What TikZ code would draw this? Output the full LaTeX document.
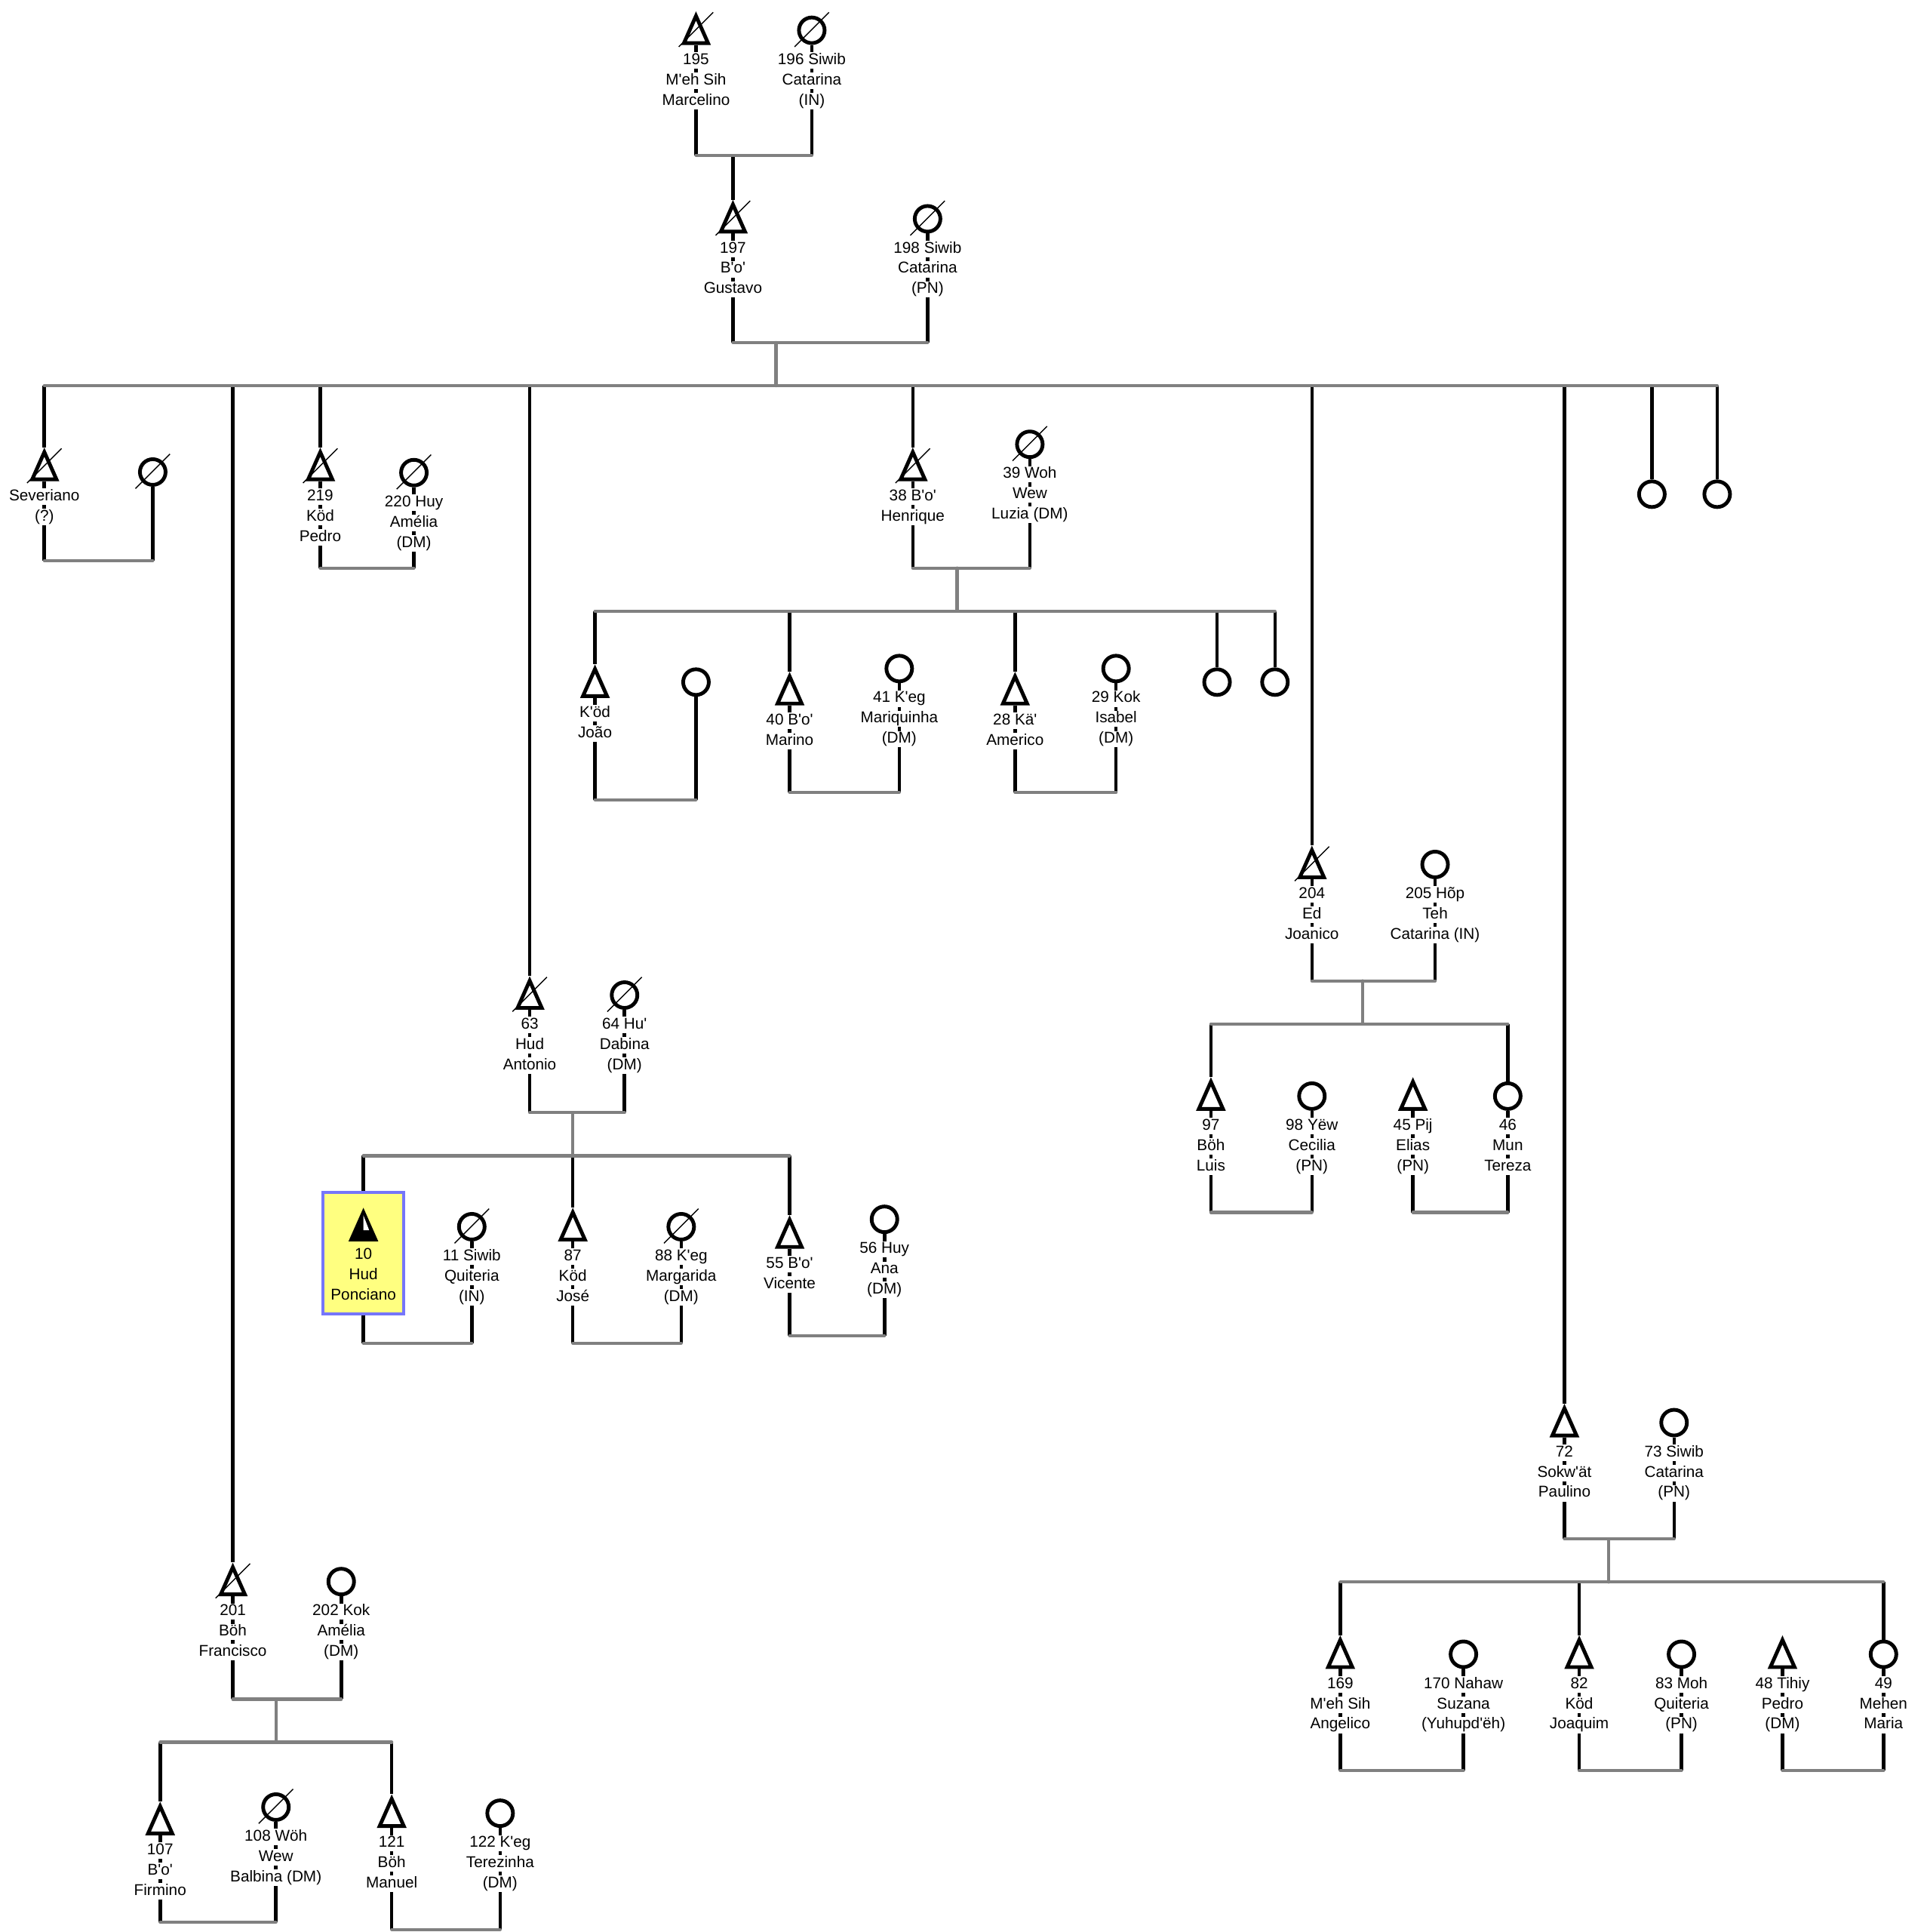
\documentclass[tikz,border=0pt]{standalone}
\usepackage{fontspec}
\newfontfamily\lblfont{Liberation Sans}
\usetikzlibrary{positioning,shapes.geometric}
\definecolor{kgray}{RGB}{128,128,128}
\definecolor{egofill}{RGB}{255,255,128}
\definecolor{egoblue}{RGB}{118,118,250}
\setlength{\fboxsep}{0.2pt}
\newcommand{\wb}[1]{\colorbox{white}{\rule[-1.4pt]{0pt}{5.8pt}#1}}
\tikzset{
  male/.style={isosceles triangle, isosceles triangle stretches, shape border rotate=90,
    minimum width=3.2mm, minimum height=3.6mm, inner sep=0pt, draw, line width=1.4pt, anchor=south},
  female/.style={circle, draw, line width=1.4pt, minimum size=3.4mm, inner sep=0pt, anchor=south},
  egobox/.style={draw=egoblue, fill=egofill, line width=1.15pt, minimum width=10.7mm, minimum height=16.05mm, inner sep=0pt},
  kin/.style={line width=1.3pt},
  bar/.style={kgray, line width=1.2pt, line cap=round},
  slash/.style={line width=0.4pt},
  lbl/.style={font=\lblfont\fontsize{5.9}{7.65}\selectfont, align=center, inner sep=0pt, below=2.5pt of #1},
}

\begin{document}
\begin{tikzpicture}[x=0.01633cm, y=-0.01633cm]
  \useasboundingbox (0,0) rectangle (1564,1568);

  % Generation 1 and 2
  \node[male] (p195) at (565,36.5) {};
  \node[female] (p196) at (659,36.5) {};
  \node[male] (p197) at (595,189.5) {};
  \node[female] (p198) at (753,189.5) {};

  % Generation 3
  \node[male] (psev) at (36,390.5) {};
  \node[female] (psevw) at (124,395) {};
  \node[male] (p201) at (189,1295.5) {};
  \node[female] (p202) at (277,1295.5) {};
  \node[male] (p219) at (260,390.5) {};
  \node[female] (p220) at (336,395.5) {};
  \node[male] (p63) at (430,819.5) {};
  \node[female] (p64) at (507,819.5) {};
  \node[male] (p38) at (741,390.5) {};
  \node[female] (p39) at (836,372.5) {};
  \node[male] (p204) at (1065,713.5) {};
  \node[female] (p205) at (1165,713.5) {};
  \node[male] (p72) at (1270,1166.5) {};
  \node[female] (p73) at (1359,1166.5) {};
  \node[female] (pd1) at (1341,413) {};
  \node[female] (pd2) at (1394,413) {};

  % Generation 4
  \node[male] (p107) at (130,1489.5) {};
  \node[female] (p108) at (224,1478.5) {};
  \node[male] (p121) at (318,1483.5) {};
  \node[female] (p122) at (406,1483.5) {};
  \node[egobox] (ego) at (295,1017) {};
  \node[male, fill=black] (p10) at (295,1007.5) {};
  \fill[white] ([shift={(0,-9)}]p10.south) -- ++(0,-12.2) -- ++(4.7,12.2) -- cycle;
  \node[female] (p11) at (383,1007.5) {};
  \node[male] (p87) at (465,1007.5) {};
  \node[female] (p88) at (553,1007.5) {};
  \node[male] (p55) at (641,1013.5) {};
  \node[female] (p56) at (718,1001.5) {};
  \node[male] (pjoao) at (483,566.5) {};
  \node[female] (pjoaow) at (565,565.5) {};
  \node[male] (p40) at (641,572.5) {};
  \node[female] (p41) at (730,554.5) {};
  \node[male] (p28) at (824,572.5) {};
  \node[female] (p29) at (906,554.5) {};
  \node[female] (pd3) at (988,565.5) {};
  \node[female] (pd4) at (1035,565.5) {};
  \node[male] (p97) at (983,901.5) {};
  \node[female] (p98) at (1065,901.5) {};
  \node[male] (p45) at (1147,901.5) {};
  \node[female] (p46) at (1224,901.5) {};
  \node[male] (p169) at (1088,1354.5) {};
  \node[female] (p170) at (1188,1354.5) {};
  \node[male] (p82) at (1282,1354.5) {};
  \node[female] (p83) at (1365,1354.5) {};
  \node[male] (p48) at (1447,1354.5) {};
  \node[female] (p49) at (1529,1354.5) {};

  % Deceased
  \foreach \p in {p195,p196,p197,p198,psev,psevw,p201,p219,p220,p63,p64,p38,p39,p204,p108,p11,p88}
    \draw[slash] ([shift={(-14,1.5)}]\p.south) -- ([shift={(14,-26.5)}]\p.south);

  % Marriage and sibling lines
  \coordinate (m1) at (595,126);
  \coordinate (m2) at (630,278);
  \coordinate (s2) at (630,313);
  \coordinate (bsev) at (80,455);
  \coordinate (m201) at (224,1379);
  \coordinate (s201) at (224,1414);
  \coordinate (b219) at (298,461);
  \coordinate (m63) at (465,903);
  \coordinate (s63) at (465,938);
  \coordinate (m38) at (777,461);
  \coordinate (s38) at (777,496);
  \coordinate (m204) at (1106,796);
  \coordinate (s204) at (1106,831);
  \coordinate (m72) at (1306,1249);
  \coordinate (s72) at (1306,1284);
  \coordinate (b107) at (177,1560);
  \coordinate (b121) at (362,1566);
  \coordinate (b10) at (339,1090);
  \coordinate (b87) at (509,1090);
  \coordinate (b55) at (680,1084);
  \coordinate (bjoao) at (524,649);
  \coordinate (b40) at (686,643);
  \coordinate (b28) at (865,643);
  \coordinate (b97) at (1024,984);
  \coordinate (b45) at (1186,984);
  \coordinate (b169) at (1138,1437);
  \coordinate (b82) at (1324,1437);
  \coordinate (b48) at (1488,1437);

  % Spouses down to the bar
  \draw[kin] (p195) -- (p195 |- m1) (p196) -- (p196 |- m1);
  \draw[kin] (p197) -- (p197 |- m2) (p198) -- (p198 |- m2);
  \draw[kin] (psev) -- (psev |- bsev) (psevw) -- (psevw |- bsev);
  \draw[kin] (p201) -- (p201 |- m201) (p202) -- (p202 |- m201);
  \draw[kin] (p219) -- (p219 |- b219) (p220) -- (p220 |- b219);
  \draw[kin] (p63) -- (p63 |- m63) (p64) -- (p64 |- m63);
  \draw[kin] (p38) -- (p38 |- m38) (p39) -- (p39 |- m38);
  \draw[kin] (p204) -- (p204 |- m204) (p205) -- (p205 |- m204);
  \draw[kin] (p72) -- (p72 |- m72) (p73) -- (p73 |- m72);
  \draw[kin] (p107) -- (p107 |- b107) (p108) -- (p108 |- b107);
  \draw[kin] (p121) -- (p121 |- b121) (p122) -- (p122 |- b121);
  \draw[kin] (ego) -- (ego |- b10) (p11) -- (p11 |- b10);
  \draw[kin] (p87) -- (p87 |- b87) (p88) -- (p88 |- b87);
  \draw[kin] (p55) -- (p55 |- b55) (p56) -- (p56 |- b55);
  \draw[kin] (pjoao) -- (pjoao |- bjoao) (pjoaow) -- (pjoaow |- bjoao);
  \draw[kin] (p40) -- (p40 |- b40) (p41) -- (p41 |- b40);
  \draw[kin] (p28) -- (p28 |- b28) (p29) -- (p29 |- b28);
  \draw[kin] (p97) -- (p97 |- b97) (p98) -- (p98 |- b97);
  \draw[kin] (p45) -- (p45 |- b45) (p46) -- (p46 |- b45);
  \draw[kin] (p169) -- (p169 |- b169) (p170) -- (p170 |- b169);
  \draw[kin] (p82) -- (p82 |- b82) (p83) -- (p83 |- b82);
  \draw[kin] (p48) -- (p48 |- b48) (p49) -- (p49 |- b48);

  % Children down from the bar
  \draw[kin] (p197 |- m1) -- (p197);
  \draw[kin] (psev |- s2) -- (psev) (p201 |- s2) -- (p201) (p219 |- s2) -- (p219)
    (p63 |- s2) -- (p63) (p38 |- s2) -- (p38) (p204 |- s2) -- (p204)
    (p72 |- s2) -- (p72) (pd1 |- s2) -- (pd1) (pd2 |- s2) -- (pd2);
  \draw[kin] (p107 |- s201) -- (p107) (p121 |- s201) -- (p121);
  \draw[kin] (ego |- s63) -- (ego) (p87 |- s63) -- (p87) (p55 |- s63) -- (p55);
  \draw[kin] (pjoao |- s38) -- (pjoao) (p40 |- s38) -- (p40) (p28 |- s38) -- (p28)
    (pd3 |- s38) -- (pd3) (pd4 |- s38) -- (pd4);
  \draw[kin] (p97 |- s204) -- (p97) (p46 |- s204) -- (p46);
  \draw[kin] (p169 |- s72) -- (p169) (p82 |- s72) -- (p82) (p49 |- s72) -- (p49);

  % Gray bars
  \draw[bar] (p195 |- m1) -- (p196 |- m1);
  \draw[bar] (p197 |- m2) -- (p198 |- m2) (m2) -- (s2) (psev |- s2) -- (pd2 |- s2);
  \draw[bar] (psev |- bsev) -- (psevw |- bsev);
  \draw[bar] (p201 |- m201) -- (p202 |- m201) (m201) -- (s201) (p107 |- s201) -- (p121 |- s201);
  \draw[bar] (p219 |- b219) -- (p220 |- b219);
  \draw[bar] (p63 |- m63) -- (p64 |- m63) (m63) -- (s63) (ego |- s63) -- (p55 |- s63);
  \draw[bar] (p38 |- m38) -- (p39 |- m38) (m38) -- (s38) (pjoao |- s38) -- (pd4 |- s38);
  \draw[bar] (p204 |- m204) -- (p205 |- m204) (m204) -- (s204) (p97 |- s204) -- (p46 |- s204);
  \draw[bar] (p72 |- m72) -- (p73 |- m72) (m72) -- (s72) (p169 |- s72) -- (p49 |- s72);
  \draw[bar] (p107 |- b107) -- (p108 |- b107) (p121 |- b121) -- (p122 |- b121);
  \draw[bar] (ego |- b10) -- (p11 |- b10) (p87 |- b87) -- (p88 |- b87) (p55 |- b55) -- (p56 |- b55);
  \draw[bar] (pjoao |- bjoao) -- (pjoaow |- bjoao) (p40 |- b40) -- (p41 |- b40) (p28 |- b28) -- (p29 |- b28);
  \draw[bar] (p97 |- b97) -- (p98 |- b97) (p45 |- b45) -- (p46 |- b45);
  \draw[bar] (p169 |- b169) -- (p170 |- b169) (p82 |- b82) -- (p83 |- b82) (p48 |- b48) -- (p49 |- b48);

  % Labels
  \node[lbl=p195] (l195) {\wb{195}\\\wb{M'eh Sih}\\\wb{Marcelino}};
  \node[lbl=p196] (l196) {\wb{196 Siwib}\\\wb{Catarina}\\\wb{(IN)}};
  \node[lbl=p197] (l197) {\wb{197}\\\wb{B'o'}\\\wb{Gustavo}};
  \node[lbl=p198] (l198) {\wb{198 Siwib}\\\wb{Catarina}\\\wb{(PN)}};
  \node[lbl=psev] (lsev) {\wb{Severiano}\\\wb{(?)}};
  \node[lbl=p201] (l201) {\wb{201}\\\wb{Böh}\\\wb{Francisco}};
  \node[lbl=p202] (l202) {\wb{202 Kok}\\\wb{Amélia}\\\wb{(DM)}};
  \node[lbl=p219] (l219) {\wb{219}\\\wb{Köd}\\\wb{Pedro}};
  \node[lbl=p220] (l220) {\wb{220 Huy}\\\wb{Amélia}\\\wb{(DM)}};
  \node[lbl=p63] (l63) {\wb{63}\\\wb{Hud}\\\wb{Antonio}};
  \node[lbl=p64] (l64) {\wb{64 Hu'}\\\wb{Dabina}\\\wb{(DM)}};
  \node[lbl=p38] (l38) {\wb{38 B'o'}\\\wb{Henrique}};
  \node[lbl=p39] (l39) {\wb{39 Woh}\\\wb{Wew}\\\wb{Luzia (DM)}};
  \node[lbl=p204] (l204) {\wb{204}\\\wb{Ed}\\\wb{Joanico}};
  \node[lbl=p205] (l205) {\wb{205 Hõp}\\\wb{Teh}\\\wb{Catarina (IN)}};
  \node[lbl=p72] (l72) {\wb{72}\\\wb{Sokw'ät}\\\wb{Paulino}};
  \node[lbl=p73] (l73) {\wb{73 Siwib}\\\wb{Catarina}\\\wb{(PN)}};
  \node[lbl=p107] (l107) {\wb{107}\\\wb{B'o'}\\\wb{Firmino}};
  \node[lbl=p108] (l108) {\wb{108 Wöh}\\\wb{Wew}\\\wb{Balbina (DM)}};
  \node[lbl=p121] (l121) {\wb{121}\\\wb{Böh}\\\wb{Manuel}};
  \node[lbl=p122] (l122) {\wb{122 K'eg}\\\wb{Terezinha}\\\wb{(DM)}};
  \node[lbl=p10] (l10) {10\\Hud\\Ponciano};
  \node[lbl=p11] (l11) {\wb{11 Siwib}\\\wb{Quiteria}\\\wb{(IN)}};
  \node[lbl=p87] (l87) {\wb{87}\\\wb{Köd}\\\wb{José}};
  \node[lbl=p88] (l88) {\wb{88 K'eg}\\\wb{Margarida}\\\wb{(DM)}};
  \node[lbl=p55] (l55) {\wb{55 B'o'}\\\wb{Vicente}};
  \node[lbl=p56] (l56) {\wb{56 Huy}\\\wb{Ana}\\\wb{(DM)}};
  \node[lbl=pjoao] (ljoao) {\wb{K'öd}\\\wb{João}};
  \node[lbl=p40] (l40) {\wb{40 B'o'}\\\wb{Marino}};
  \node[lbl=p41] (l41) {\wb{41 K'eg}\\\wb{Mariquinha}\\\wb{(DM)}};
  \node[lbl=p28] (l28) {\wb{28 Kä'}\\\wb{Americo}};
  \node[lbl=p29] (l29) {\wb{29 Kok}\\\wb{Isabel}\\\wb{(DM)}};
  \node[lbl=p97] (l97) {\wb{97}\\\wb{Böh}\\\wb{Luis}};
  \node[lbl=p98] (l98) {\wb{98 Yëw}\\\wb{Cecilia}\\\wb{(PN)}};
  \node[lbl=p45] (l45) {\wb{45 Pij}\\\wb{Elias}\\\wb{(PN)}};
  \node[lbl=p46] (l46) {\wb{46}\\\wb{Mun}\\\wb{Tereza}};
  \node[lbl=p169] (l169) {\wb{169}\\\wb{M'eh Sih}\\\wb{Angelico}};
  \node[lbl=p170] (l170) {\wb{170 Nahaw}\\\wb{Suzana}\\\wb{(Yuhupd'ëh)}};
  \node[lbl=p82] (l82) {\wb{82}\\\wb{Köd}\\\wb{Joaquim}};
  \node[lbl=p83] (l83) {\wb{83 Moh}\\\wb{Quiteria}\\\wb{(PN)}};
  \node[lbl=p48] (l48) {\wb{48 Tihiy}\\\wb{Pedro}\\\wb{(DM)}};
  \node[lbl=p49] (l49) {\wb{49}\\\wb{Mehen}\\\wb{Maria}};
\end{tikzpicture}
\end{document}
